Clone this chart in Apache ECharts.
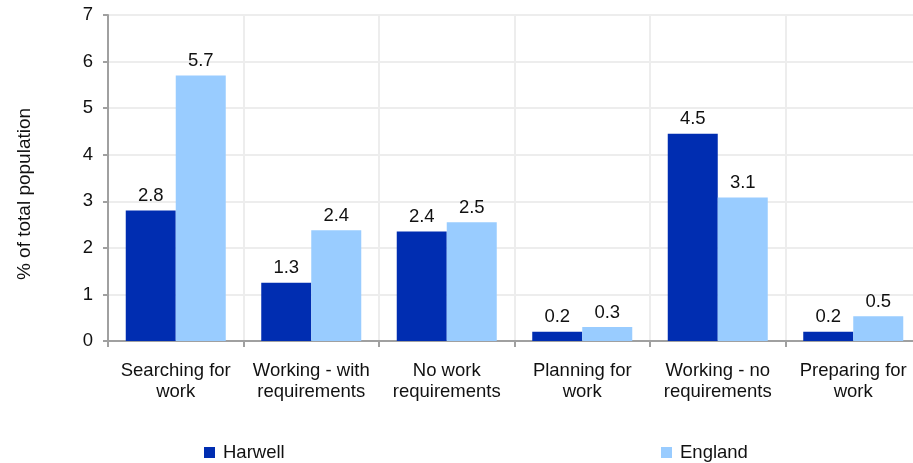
<!DOCTYPE html>
<html><head><meta charset="utf-8">
<script src="https://cdn.jsdelivr.net/npm/echarts@6/dist/echarts.min.js"></script>
<style>html,body{margin:0;padding:0;background:#fff}#c{width:913px;height:463px}</style>
</head><body><div id="c"></div>
<script>
var categories = ["Searching for\nwork", "Working - with\nrequirements", "No work\nrequirements", "Planning for\nwork", "Working - no\nrequirements", "Preparing for\nwork"];
var harwell = [2.8, 1.25, 2.35, 0.2, 4.45, 0.2];
var harwellLabels = ["2.8", "1.3", "2.4", "0.2", "4.5", "0.2"];
var england = [5.7, 2.38, 2.55, 0.3, 3.08, 0.53];
var englandLabels = ["5.7", "2.4", "2.5", "0.3", "3.1", "0.5"];
var yTicks = [0, 1, 2, 3, 4, 5, 6, 7];

var font = "Liberation Sans, Arial, sans-serif";
var fs = 18.5;
var chart = echarts.init(document.getElementById('c'));
chart.setOption({
  animation: false,
  textStyle: {fontFamily: font},
  grid: {left: 108, top: 15, width: 813, bottom: 122, containLabel: false, outerBoundsMode: 'none'},
  legend: [
    {data: ['Harwell'], left: 204, top: 443, padding: 0, itemWidth: 11, itemHeight: 11, icon: 'rect',
     textStyle: {fontSize: fs, color: '#111', fontFamily: font, padding: [0, 0, 0, 3]}},
    {data: ['England'], left: 661, top: 443, padding: 0, itemWidth: 11, itemHeight: 11, icon: 'rect',
     textStyle: {fontSize: fs, color: '#111', fontFamily: font, padding: [0, 0, 0, 3]}}
  ],
  xAxis: {
    type: 'category', data: categories,
    axisLine: {lineStyle: {color: '#a0a0a0', width: 2}},
    axisTick: {show: true, length: 6, lineStyle: {color: '#a0a0a0', width: 2}},
    splitLine: {show: true, lineStyle: {color: '#ededed', width: 2}},
    axisLabel: {fontSize: fs, color: '#111', margin: 19, lineHeight: 21, fontFamily: font, interval: 0}
  },
  yAxis: {
    type: 'value', min: yTicks[0], max: yTicks[yTicks.length - 1], interval: 1,
    name: '% of total population', nameLocation: 'middle', nameGap: 74, nameRotate: 90,
    nameTextStyle: {fontSize: 19, color: '#111', fontFamily: font, padding: [0, 32, 0, 0]},
    axisLine: {show: true, lineStyle: {color: '#a0a0a0', width: 2}},
    axisTick: {show: true, length: 5, lineStyle: {color: '#a0a0a0', width: 2}},
    splitLine: {show: true, lineStyle: {color: '#ededed', width: 2}},
    axisLabel: {fontSize: fs, color: '#111', margin: 15, fontFamily: font}
  },
  series: [
    {name: 'Harwell', type: 'bar', data: harwell, barWidth: 50, barGap: '0%',
     itemStyle: {color: '#002DB1'},
     label: {show: true, position: 'top', fontSize: fs, color: '#111', fontFamily: font, distance: 5,
       formatter: function (p) { return harwellLabels[p.dataIndex]; }}},
    {name: 'England', type: 'bar', data: england, barWidth: 50, barGap: '0%',
     itemStyle: {color: '#99CCFF'},
     label: {show: true, position: 'top', fontSize: fs, color: '#111', fontFamily: font, distance: 5,
       formatter: function (p) { return englandLabels[p.dataIndex]; }}}
  ]
});
</script></body></html>
